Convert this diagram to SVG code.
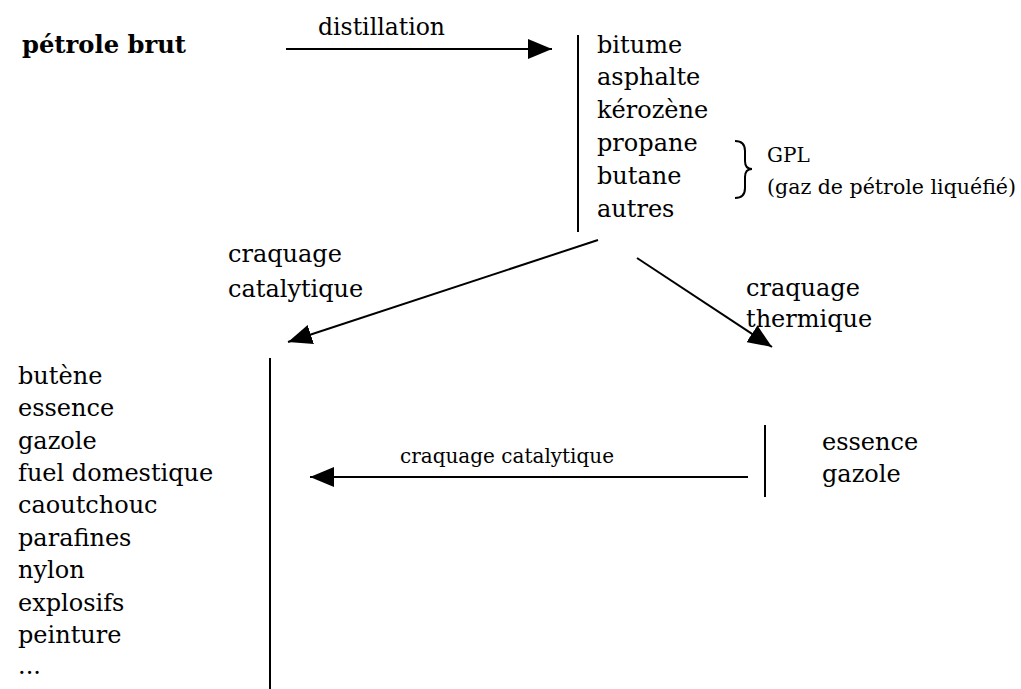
<svg xmlns="http://www.w3.org/2000/svg" width="1021" height="689" viewBox="0 0 1021 689">
<style>
text{font-family:"DejaVu Serif","Liberation Serif",serif;fill:#000;font-size:24px}
.b{font-weight:bold}
.s{font-size:20px}
.bar{stroke:#000;stroke-width:2;fill:none}
.edge{stroke:#000;stroke-width:2;fill:none}
</style>
<defs>
<marker id="ah" viewBox="0 0 24 20" refX="24" refY="10" markerWidth="24" markerHeight="20" markerUnits="userSpaceOnUse" orient="auto">
<path d="M0,0 L24,10 L0,20 z" fill="#000"/>
</marker>
</defs>
<rect width="1021" height="689" fill="#fff"/>
<g id="n-petrole">
<text class="b" x="22" y="53" textLength="164" lengthAdjust="spacingAndGlyphs">pétrole brut</text>
</g>
<g id="n-distillation-products">
<line class="bar" x1="578" y1="35" x2="578" y2="232"/>
<text x="597" y="53">bitume</text>
<text x="597" y="85">asphalte</text>
<text x="597" y="118">kérozène</text>
<text x="597" y="151">propane</text>
<text x="597" y="184">butane</text>
<text x="597" y="217">autres</text>
</g>
<g id="n-gpl">
<path class="bar" d="M735,141 Q745,141 745,151 L745,161 Q745,169 752,169 Q745,169 745,177 L745,188 Q745,198 735,198"/>
<text class="s" x="767" y="162">GPL</text>
<text class="s" x="767" y="194" textLength="249" lengthAdjust="spacingAndGlyphs">(gaz de pétrole liquéfié)</text>
</g>
<g id="n-catalytic-products">
<line class="bar" x1="270" y1="358" x2="270" y2="689"/>
<text x="18" y="384">butène</text>
<text x="18" y="416">essence</text>
<text x="18" y="449">gazole</text>
<text x="18" y="481">fuel domestique</text>
<text x="18" y="513">caoutchouc</text>
<text x="18" y="546">parafines</text>
<text x="18" y="578">nylon</text>
<text x="18" y="611">explosifs</text>
<text x="18" y="643">peinture</text>
<text x="18" y="674">...</text>
</g>
<g id="n-thermal-products">
<line class="bar" x1="765" y1="425" x2="765" y2="497"/>
<text x="822" y="450">essence</text>
<text x="822" y="482">gazole</text>
</g>
<g id="connectors">
<line class="edge" x1="286" y1="49" x2="552" y2="49" marker-end="url(#ah)"/>
<text x="318" y="35" font-size="22" textLength="127" lengthAdjust="spacingAndGlyphs">distillation</text>
<line class="edge" x1="598" y1="240" x2="288" y2="342" marker-end="url(#ah)"/>
<text x="228" y="262">craquage</text>
<text x="228" y="297">catalytique</text>
<line class="edge" x1="637" y1="258" x2="772" y2="347" marker-end="url(#ah)"/>
<text x="746" y="296">craquage</text>
<text x="746" y="327">thermique</text>
<line class="edge" x1="748" y1="477" x2="310" y2="477" marker-end="url(#ah)"/>
<text class="s" x="400" y="463">craquage catalytique</text>
</g>
</svg>
